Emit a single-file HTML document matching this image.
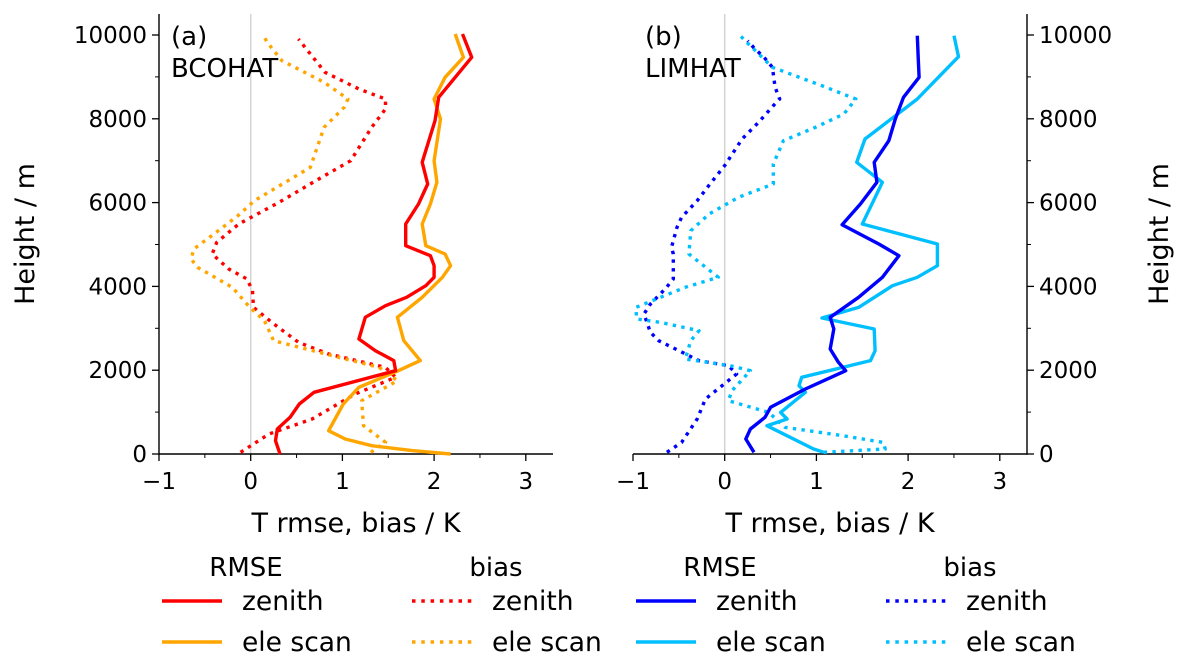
<!DOCTYPE html>
<html><head><meta charset="utf-8"><style>
body{margin:0;background:#fff}
svg{display:block;font-family:"DejaVu Sans","Liberation Sans",sans-serif}
</style></head><body>
<svg id="chart" width="1187" height="665" viewBox="0 0 1187 665"></svg>
<script>
// heights in m
const redRmseX=[0.32,0.27,0.29,0.43,0.53,0.69,1.58,1.56,1.36,1.18,1.25,1.47,1.70,1.91,2.00,2.00,1.96,1.69,1.69,1.83,1.93,1.87,2.01,2.05,2.23,2.41,2.31];
const redRmseH=[0,318,597,875,1193,1472,1989,2228,2466,2745,3262,3540,3739,4017,4216,4495,4733,4972,5489,5967,6444,6961,7955,8512,8990,9467,10024];
const orgRmseX=[2.18,1.76,1.32,1.03,0.85,0.89,1.01,1.18,1.61,1.85,1.67,1.60,1.87,2.09,2.18,2.12,1.91,1.87,1.96,2.03,2.00,2.07,2.00,2.12,2.32,2.23];
const orgRmseH=[0,80,199,358,557,716,1193,1591,1989,2228,2705,3262,3739,4216,4495,4773,4972,5489,5967,6484,7001,7995,8473,8990,9467,10024];
const redBiasX=[-0.11,0.20,0.67,1.14,1.58,1.47,0.85,0.52,0.23,0.03,0.02,-0.04,-0.24,-0.42,-0.37,-0.13,0.31,0.71,1.09,1.32,1.47,1.47,1.18,0.81,0.52];
const redBiasH=[40,477,835,1432,1830,2068,2387,2665,3142,3500,3898,4177,4415,4773,5052,5489,6006,6523,7001,7796,8234,8473,8711,9109,9905];
const orgBiasX=[1.31,1.47,1.23,1.21,1.60,1.40,0.96,0.25,0.15,-0.01,-0.20,-0.58,-0.65,-0.62,-0.40,-0.14,0.04,0.65,0.70,0.80,1.02,1.06,0.80,0.34,0.18,0.13];
const orgBiasH=[40,279,676,1273,1750,2068,2307,2705,3182,3500,3977,4455,4654,4893,5251,5688,6046,6841,7160,7796,8274,8473,8870,9387,9825,10024];
const bluRmseX=[0.32,0.23,0.28,0.44,0.50,0.88,1.32,1.24,1.15,1.19,1.15,1.46,1.72,1.90,1.68,1.28,1.48,1.66,1.63,1.79,1.86,1.95,2.12,2.11,2.10];
const bluRmseH=[40,358,597,875,1114,1551,1989,2188,2506,2983,3262,3739,4216,4733,5012,5473,5967,6484,6961,7478,7995,8512,8990,9467,9984];
const cyaRmseX=[1.08,0.97,0.46,0.68,0.61,0.88,0.81,0.84,1.59,1.64,1.63,1.06,1.46,1.83,2.10,2.32,2.32,1.50,1.72,1.44,1.53,1.84,2.10,2.33,2.55,2.50];
const cyaRmseH=[40,119,676,835,994,1472,1631,1830,2228,2466,2983,3246,3500,4017,4216,4495,5012,5489,6484,6961,7518,8035,8473,8990,9483,9984];
const bluBiasX=[-0.63,-0.47,-0.30,-0.21,-0.05,0.13,0.04,-0.28,-0.50,-0.72,-0.81,-0.88,-0.81,-0.65,-0.56,-0.56,-0.58,-0.52,-0.47,-0.30,-0.16,0,0.19,0.37,0.53,0.60,0.55,0.52,0.43,0.33,0.25];
const bluBiasH=[40,278,835,1313,1591,1909,2108,2228,2466,2705,2904,3341,3580,3938,4177,4773,4932,5410,5648,6046,6444,6882,7518,7916,8313,8473,8751,9228,9467,9666,9865];
const cyaBiasX=[1.08,1.75,1.73,1.28,0.66,0.48,0.04,0.08,0.28,0.06,-0.43,-0.37,-0.28,-0.70,-0.96,-0.97,-0.43,-0.07,-0.39,-0.37,-0.17,0.15,0.53,0.53,0.64,0.99,1.30,1.43,1.06,0.52,0.24,0.17];
const cyaBiasH=[40,119,278,438,636,994,1273,1512,1989,2108,2267,2705,2943,3142,3222,3500,3978,4216,4773,5330,5728,6126,6444,6921,7478,7796,8114,8473,8791,9228,9825,9984];
const xTicks=[-1,0,1,2,3];
const yTicks=[0,2000,4000,6000,8000,10000];

const NS="http://www.w3.org/2000/svg";
const svg=document.getElementById('chart');
function mk(tag,attrs,parent,text){const e=document.createElementNS(NS,tag);for(const k in attrs)e.setAttribute(k,attrs[k]);if(text!==undefined)e.textContent=text;(parent||svg).appendChild(e);return e;}
const Y0=454,YS=0.0419;
function yS(h){return Y0-h*YS;}
function panel(x0,title,name,series,rightAxis){
  const g=mk('g',{});
  
  
  const XS=91.7, xz=x0+XS;
  const xS=v=>xz+v*XS;
  const x1=x0+394;
  const z=mk('line',{x1:xS(0),x2:xS(0),y1:14,y2:Y0,stroke:'#d3d3d3','stroke-width':1.5},g);
  
  const sx=rightAxis?x1:x0;
  const sp=mk('line',{x1:sx,x2:sx,y1:14,y2:Y0+0.7,stroke:'#000','stroke-width':1.4},g);
  
  const bs=mk('line',{x1:x0,x2:x1,y1:Y0,y2:Y0,stroke:'#000','stroke-width':1.4},g);
  
  xTicks.forEach(v=>{
    mk('line',{x1:xS(v),x2:xS(v),y1:Y0,y2:Y0+7,stroke:'#000','stroke-width':1.3},g);
    const t=mk('text',{x:xS(v),y:Y0+35,'font-size':23,'text-anchor':'middle'},g,v<0?'\u2212'+(-v):String(v));
    
  });
  for(let v=-0.5;v<3.3;v+=1) mk('line',{x1:xS(v),x2:xS(v),y1:Y0,y2:Y0+4,stroke:'#000','stroke-width':1},g);
  yTicks.forEach(v=>{
    const d=rightAxis?7:-7;
    mk('line',{x1:sx,x2:sx+d,y1:yS(v),y2:yS(v),stroke:'#000','stroke-width':1.3},g);
    const t=mk('text',{x:rightAxis?sx+12:sx-12,y:yS(v)+8,'font-size':23,'text-anchor':rightAxis?'start':'end'},g,String(v));
    
  });
  for(let v=1000;v<=10000;v+=2000){const d=rightAxis?4:-4;mk('line',{x1:sx,x2:sx+d,y1:yS(v),y2:yS(v),stroke:'#000','stroke-width':1},g);}
  const xl=mk('text',{x:x0+197,y:532,'font-size':27,'text-anchor':'middle'},g,'T rmse, bias / K');
  
  const yl=rightAxis?mk('text',{x:0,y:0,'font-size':27,'text-anchor':'middle',transform:'translate(1168,234) rotate(-90)'},g,'Height / m')
                    :mk('text',{x:0,y:0,'font-size':27,'text-anchor':'middle',transform:'translate(34,234) rotate(-90)'},g,'Height / m');
  
  const t1=mk('text',{x:x0+12,y:45,'font-size':26},g,title[0]);
  
  const t2=mk('text',{x:x0+12,y:77,'font-size':26},g,title[1]);
  
  series.forEach(s=>{
    const pts=s.x.map((v,i)=>xS(v).toFixed(1)+','+yS(s.h[i]).toFixed(1)).join(' ');
    const a={points:pts,fill:'none',stroke:s.c,'stroke-width':3.4,'stroke-linejoin':'round'};
    if(s.dot)a['stroke-dasharray']='3.4 5.3';
    const p=mk('polyline',a,g);
    
  });
}
panel(159,['(a)','BCOHAT'],'panel-bcohat',[
 {x:redBiasX,h:redBiasH,c:'#ff0000',dot:1,n:'bias-zenith-line'},
 {x:orgBiasX,h:orgBiasH,c:'#ffa500',dot:1,n:'bias-ele-scan-line'},
 {x:orgRmseX,h:orgRmseH,c:'#ffa500',n:'rmse-ele-scan-line'},
 {x:redRmseX,h:redRmseH,c:'#ff0000',n:'rmse-zenith-line'}],false);
panel(633,['(b)','LIMHAT'],'panel-limhat',[
 {x:bluBiasX,h:bluBiasH,c:'#0000ff',dot:1,n:'bias-zenith-line'},
 {x:cyaBiasX,h:cyaBiasH,c:'#00bfff',dot:1,n:'bias-ele-scan-line'},
 {x:cyaRmseX,h:cyaRmseH,c:'#00bfff',n:'rmse-ele-scan-line'},
 {x:bluRmseX,h:bluRmseH,c:'#0000ff',n:'rmse-zenith-line'}],true);
function leg(x,title,c1,c2,dot,name){
  const g=mk('g',{});
  
  
  const t=mk('text',{x:x+84,y:576,'font-size':26,'text-anchor':'middle'},g,title);
  
  [[c1,'zenith',601],[c2,'ele scan',642]].forEach(([c,l,y])=>{
    const a={x1:x,x2:x+60,y1:y,y2:y,stroke:c,'stroke-width':3.5};
    if(dot)a['stroke-dasharray']='3.5 5.8';
    const ln=mk('line',a,g);
    
    const tx=mk('text',{x:x+80,y:y+9,'font-size':26.5},g,l);
    
  });
}
leg(162,'RMSE','#ff0000','#ffa500',false,'legend-rmse-a');
leg(412,'bias','#ff0000','#ffa500',true,'legend-bias-a');
leg(636,'RMSE','#0000ff','#00bfff',false,'legend-rmse-b');
leg(886,'bias','#0000ff','#00bfff',true,'legend-bias-b');
</script>
</body></html>
